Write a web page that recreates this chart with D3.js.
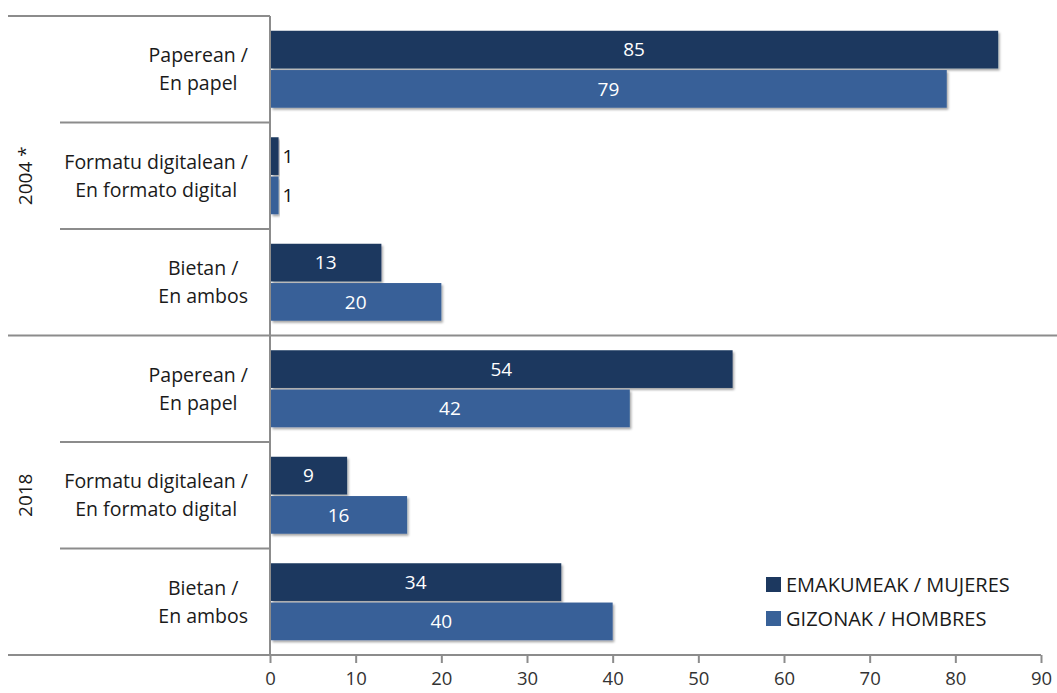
<!DOCTYPE html>
<html><head><meta charset="utf-8">
<script src="https://cdn.jsdelivr.net/npm/d3@7"></script>
<style>body{margin:0;background:#fff}svg{display:block}text{font-family:"Open Sans",sans-serif}</style>
</head><body><svg id="c" width="1057" height="693"></svg>
<script>
const years = ["2004 *", "2018"];
const categories = [["Paperean /","En papel"],["Formatu digitalean /","En formato digital"],["Bietan /","En ambos"]];
const seriesNames = ["EMAKUMEAK / MUJERES","GIZONAK / HOMBRES"];
const women = [85, 1, 13, 54, 9, 34];
const men   = [79, 1, 20, 42, 16, 40];
const xTicks = [0,10,20,30,40,50,60,70,80,90];
const colors = ["#1c385f","#386198"];

const svg = d3.select("#c");
const defs = svg.append("defs");
const f = defs.append("filter").attr("id","sh").attr("x","-5%").attr("y","-20%").attr("width","120%").attr("height","160%");
f.append("feDropShadow").attr("dx",1.5).attr("dy",2).attr("stdDeviation",1.2).attr("flood-color","#000").attr("flood-opacity",0.35);

const x0 = 270, x1 = 1041, yTop = 16, yBot = 655;
const x = d3.scaleLinear().domain([0,90]).range([x0,x1]);
const rows = d3.range(6);
const y = d3.scaleBand().domain(rows).range([yTop,yBot]);
const inner = d3.scaleBand().domain([0,1]).range([0,77]).paddingInner(0.04);
const gridC = "#8c8c8c";

// bars
const data = [];
rows.forEach(r => { data.push({r, s:0, v:women[r]}); data.push({r, s:1, v:men[r]}); });
const bw = y.bandwidth();
const pad = (bw - 77)/2;
svg.append("g").selectAll("rect").data(data).join("rect")
  .attr("x", x(0)+1).attr("y", d => y(d.r)+pad+inner(d.s))
  .attr("width", d => x(d.v)-x(0)-1).attr("height", inner.bandwidth())
  .attr("fill", d => colors[d.s]).attr("filter","url(#sh)");
svg.append("g").selectAll("text").data(data).join("text")
  .attr("x", d => (x(d.v)-x(0) < 25) ? x(d.v)+4 : (x(0)+x(d.v))/2)
  .attr("y", d => y(d.r)+pad+inner(d.s)+inner.bandwidth()/2)
  .attr("dy","0.36em")
  .attr("text-anchor", d => (x(d.v)-x(0) < 25) ? "start" : "middle")
  .attr("fill", d => (x(d.v)-x(0) < 25) ? "#111" : "#fff")
  .attr("font-size", 19).text(d => d.v);

// lines
const L = svg.append("g").attr("stroke",gridC).attr("stroke-width",2).attr("fill","none");
L.append("line").attr("x1",8).attr("x2",x0).attr("y1",yTop).attr("y2",yTop);
L.append("line").attr("x1",8).attr("x2",1057).attr("y1",y(3)).attr("y2",y(3));
[1,2,4,5].forEach(r => L.append("line").attr("x1",60).attr("x2",x0).attr("y1",y(r)).attr("y2",y(r)));
L.append("line").attr("x1",x0).attr("x2",x0).attr("y1",yTop).attr("y2",yBot);
L.append("line").attr("x1",8).attr("x2",x1).attr("y1",yBot).attr("y2",yBot);

// x axis
const ax = svg.append("g").attr("transform",`translate(0,${yBot})`)
  .call(d3.axisBottom(x).tickValues(xTicks).tickSize(8).tickPadding(9));
ax.select(".domain").remove();
ax.selectAll("line").attr("stroke",gridC).attr("stroke-width",2);
ax.selectAll("text").attr("font-size",18.5).attr("fill","#333").attr("font-family","Open Sans");

// category labels
rows.forEach(r => {
  const lines = categories[r%3];
  const g = svg.append("g");
  const cy = y(r)+bw/2;
  const ts = lines.map((t,i) => g.append("text").attr("font-size",19.5).attr("fill","#1a1a1a")
     .attr("y", cy + (i-0.5)*28).attr("dy","0.36em").attr("text-anchor","middle").text(t));
  const wmax = d3.max(ts, t => t.node().getComputedTextLength());
  ts.forEach(t => t.attr("x", 248 - wmax/2));
});

// year labels
years.forEach((yr,i) => {
  const cy = (y(i*3) + y(i*3+2)+bw)/2;
  svg.append("text").attr("transform",`translate(25,${cy}) rotate(-90)`)
    .attr("text-anchor","middle").attr("dy","0.36em").attr("font-size",19).attr("fill","#1a1a1a").text(yr);
});

// legend
const lg = svg.append("g");
seriesNames.forEach((n,i) => {
  lg.append("rect").attr("x",766).attr("y",577+i*34).attr("width",15).attr("height",15).attr("fill",colors[i]);
  lg.append("text").attr("x",786).attr("y",585+i*34).attr("dy","0.36em").attr("font-size",20).attr("fill","#1a1a1a").text(n);
});
</script></body></html>
